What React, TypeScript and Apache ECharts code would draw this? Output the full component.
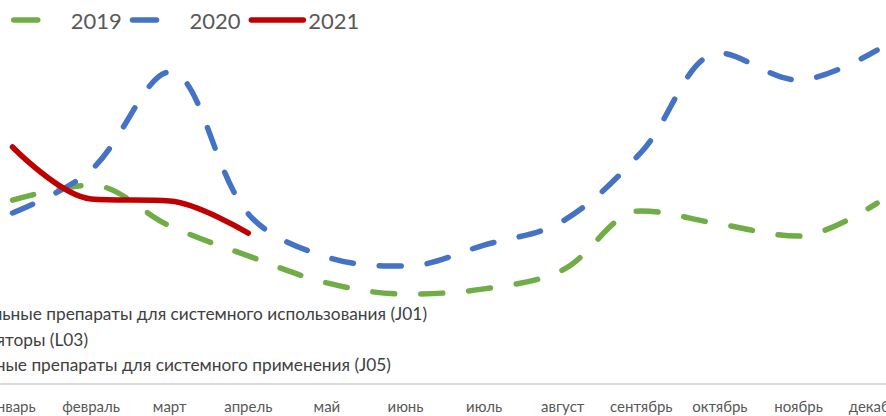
import React, { useEffect, useRef } from "react";
import * as echarts from "echarts";

const months = [
  "январь", "февраль", "март", "апрель", "май", "июнь",
  "июль", "август", "сентябрь", "октябрь", "ноябрь", "декабрь",
];
const values2019 = [61.3, 66.3, 52.7, 42.7, 33.7, 30, 31.7, 38, 57.7, 53.3, 49.3, 60.3];
const values2020 = [57, 71.3, 104, 56.7, 42.3, 39.3, 46.3, 54.3, 77.3, 110.3, 101.3, 111.3];
const values2021 = [79, 61.7, 61, 50.3];
const overlayLabels = [
  "Антибактериальные препараты для системного использования (J01)",
  "Иммуностимуляторы (L03)",
  "Противовирусные препараты для системного применения (J05)",
];

const FONT = "Lato, 'Open Sans', sans-serif";
const GREEN = "#70ad47";
const BLUE = "#4472c4";
const RED = "#c00000";

export default function App() {
  const ref = useRef<HTMLDivElement>(null);
  useEffect(() => {
    if (!ref.current) return;
    const chart = echarts.init(ref.current, undefined, { renderer: "svg" });
    const dash = [22, 26];
    const overlayEnds = [427, 88, 391];
    const overlayY = [313, 339, 364];
    const legendLine = { width: 5.5, cap: "round" };
    chart.setOption({
      animation: false,
      backgroundColor: "#ffffff",
      grid: {
        left: -26.8,
        width: 943.2,
        top: 24,
        height: 360,
        containLabel: false,
        outerBoundsMode: "none",
      },
      legend: {
        left: 6,
        top: 4,
        itemWidth: 52,
        itemHeight: 14,
        itemGap: 8,
        textStyle: { fontFamily: FONT, fontSize: 22, color: "#595959" },
        itemStyle: { opacity: 0 },
        data: [
          { name: "2019", lineStyle: { ...legendLine, type: [24, 40] }, itemStyle: { opacity: 0 } },
          { name: "2020", lineStyle: { ...legendLine, type: [24, 40] }, itemStyle: { opacity: 0 } },
          { name: "2021", lineStyle: { ...legendLine }, itemStyle: { opacity: 0 } },
        ],
      },
      xAxis: {
        type: "category",
        data: months,
        boundaryGap: true,
        axisLine: { show: true, lineStyle: { color: "#d9d9d9", width: 2 } },
        axisTick: { show: false },
        axisLabel: { fontFamily: FONT, fontSize: 15, color: "#595959", margin: 14, interval: 0 },
      },
      yAxis: {
        type: "value",
        min: 0,
        max: 120,
        show: false,
        splitLine: { show: false },
      },
      series: [
        {
          name: "2019",
          type: "line",
          data: values2019,
          smooth: 0.35,
          symbol: "none",
          lineStyle: { color: GREEN, width: 5.5, type: dash, cap: "round" },
          itemStyle: { color: GREEN },
        },
        {
          name: "2020",
          type: "line",
          data: values2020,
          smooth: 0.35,
          symbol: "none",
          lineStyle: { color: BLUE, width: 5.5, type: dash, cap: "round" },
          itemStyle: { color: BLUE },
        },
        {
          name: "2021",
          type: "line",
          data: values2021,
          smooth: 0.35,
          symbol: "none",
          lineStyle: { color: RED, width: 5.5, cap: "round" },
          itemStyle: { color: RED },
        },
      ],
      graphic: overlayLabels.map((t, i) => ({
        type: "text",
        x: overlayEnds[i],
        y: overlayY[i],
        style: {
          text: t,
          font: `17.3px ${FONT}`,
          fill: "#404040",
          align: "right",
          verticalAlign: "middle",
        },
      })),
    });
    return () => chart.dispose();
  }, []);
  return (
    <div
      ref={ref}
      style={{ position: "fixed", left: 0, top: 0, width: 886, height: 416 }}
    />
  );
}
